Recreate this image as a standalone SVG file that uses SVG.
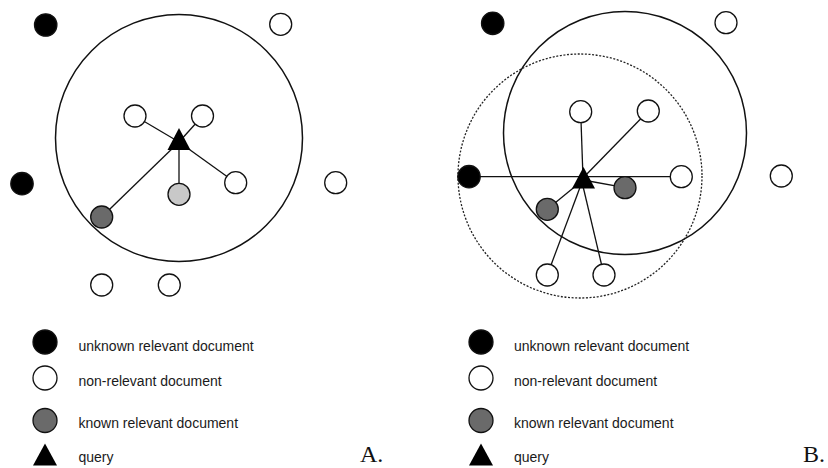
<svg xmlns="http://www.w3.org/2000/svg" width="828" height="468" viewBox="0 0 828 468">
<style>
.bg{fill:#ffffff}
.doc{stroke:#111;stroke-width:1.3}
.unk{fill:#000}
.non{fill:#fff}
.known{fill:#6a6a6a}
.light{fill:#c8c8c8}
.q{fill:#000}
.edge{stroke:#111;stroke-width:1.3;fill:none}
.ring{stroke:#111;stroke-width:1.5;fill:none}
.dotted{stroke:#222;stroke-width:1.3;fill:none;stroke-dasharray:2 1.6}
.lg{font-family:"Liberation Sans",Arial,sans-serif;font-size:14px;fill:#1a1a1a}
.lbl{font-family:"Liberation Serif","Times New Roman",serif;font-size:24px;fill:#111}
</style>
<rect class="bg" x="0" y="0" width="828" height="468"/>

<!-- Panel A -->
<g id="A-ring"><circle class="ring" cx="179" cy="138" r="123.5"/></g>
<g id="A-connectors">
<line class="edge" x1="179" y1="142" x2="135" y2="116"/>
<line class="edge" x1="179" y1="142" x2="202.5" y2="116"/>
<line class="edge" x1="179" y1="142" x2="235.7" y2="182.7"/>
<line class="edge" x1="179" y1="142" x2="179" y2="194"/>
<line class="edge" x1="179" y1="142" x2="101.7" y2="217"/>
</g>
<g id="A-n1"><circle class="doc unk" cx="45.7" cy="25" r="11.2"/></g>
<g id="A-n2"><circle class="doc non" cx="280.7" cy="24.3" r="11"/></g>
<g id="A-n3"><circle class="doc non" cx="135" cy="116" r="11"/></g>
<g id="A-n4"><circle class="doc non" cx="202.5" cy="116" r="11"/></g>
<g id="A-n5"><circle class="doc non" cx="235.7" cy="182.7" r="11"/></g>
<g id="A-n6"><circle class="doc non" cx="335.7" cy="182.7" r="11"/></g>
<g id="A-n7"><circle class="doc unk" cx="22" cy="183.7" r="11.2"/></g>
<g id="A-n8"><circle class="doc light" cx="179" cy="194.3" r="11"/></g>
<g id="A-n9"><circle class="doc known" cx="101.7" cy="217" r="11"/></g>
<g id="A-n10"><circle class="doc non" cx="101.7" cy="285" r="11"/></g>
<g id="A-n11"><circle class="doc non" cx="169.3" cy="285" r="11"/></g>
<g id="A-query"><polygon class="q" points="179,128 167.5,150 190.5,150"/></g>

<!-- Panel B -->
<g id="B-ring"><circle class="ring" cx="625" cy="133" r="121.5"/></g>
<g id="B-ring-dotted"><circle class="dotted" cx="580" cy="176" r="122"/></g>
<g id="B-connectors">
<line class="edge" x1="469" y1="176.7" x2="681.3" y2="176.7"/>
<line class="edge" x1="583" y1="178" x2="580.7" y2="111.7"/>
<line class="edge" x1="583" y1="178" x2="648.3" y2="111"/>
<line class="edge" x1="583" y1="180" x2="625" y2="187.7"/>
<line class="edge" x1="583" y1="180" x2="547.3" y2="209.3"/>
<line class="edge" x1="582" y1="182" x2="547.3" y2="275"/>
<line class="edge" x1="582" y1="182" x2="604" y2="275"/>
</g>
<g id="B-n1"><circle class="doc unk" cx="492.7" cy="23.3" r="11.2"/></g>
<g id="B-n2"><circle class="doc non" cx="726" cy="22.7" r="11"/></g>
<g id="B-n3"><circle class="doc non" cx="580.7" cy="111.7" r="11"/></g>
<g id="B-n4"><circle class="doc non" cx="648.3" cy="111" r="11"/></g>
<g id="B-n5"><circle class="doc unk" cx="469" cy="176.7" r="11.2"/></g>
<g id="B-n6"><circle class="doc non" cx="681.3" cy="176.7" r="11"/></g>
<g id="B-n7"><circle class="doc non" cx="781.3" cy="176" r="11"/></g>
<g id="B-n8"><circle class="doc known" cx="625" cy="187.7" r="11"/></g>
<g id="B-n9"><circle class="doc known" cx="547.3" cy="209.3" r="11"/></g>
<g id="B-n10"><circle class="doc non" cx="547.3" cy="275" r="11"/></g>
<g id="B-n11"><circle class="doc non" cx="604" cy="275" r="11"/></g>
<g id="B-query"><polygon class="q" points="583.5,167 572,188.5 595,188.5"/></g>

<!-- Legend A -->
<g id="A-legend">
<circle class="doc unk" cx="45" cy="342" r="12"/>
<text class="lg" x="78.5" y="351">unknown relevant document</text>
<circle class="doc non" cx="45" cy="378" r="12"/>
<text class="lg" x="78.5" y="386">non-relevant document</text>
<circle class="doc known" cx="45" cy="420.5" r="12"/>
<text class="lg" x="78.5" y="427.5">known relevant document</text>
<polygon class="q" points="45,443.5 33,465.5 57,465.5"/>
<text class="lg" x="78.5" y="462">query</text>
<text class="lbl" x="360" y="462">A.</text>
</g>

<!-- Legend B -->
<g id="B-legend">
<circle class="doc unk" cx="481" cy="342" r="12"/>
<text class="lg" x="514" y="351">unknown relevant document</text>
<circle class="doc non" cx="481" cy="378" r="12"/>
<text class="lg" x="514" y="386">non-relevant document</text>
<circle class="doc known" cx="481" cy="420.5" r="12"/>
<text class="lg" x="514" y="427.5">known relevant document</text>
<polygon class="q" points="481,443.5 469,465.5 493,465.5"/>
<text class="lg" x="514" y="462">query</text>
<text class="lbl" x="803" y="462">B.</text>
</g>
</svg>
